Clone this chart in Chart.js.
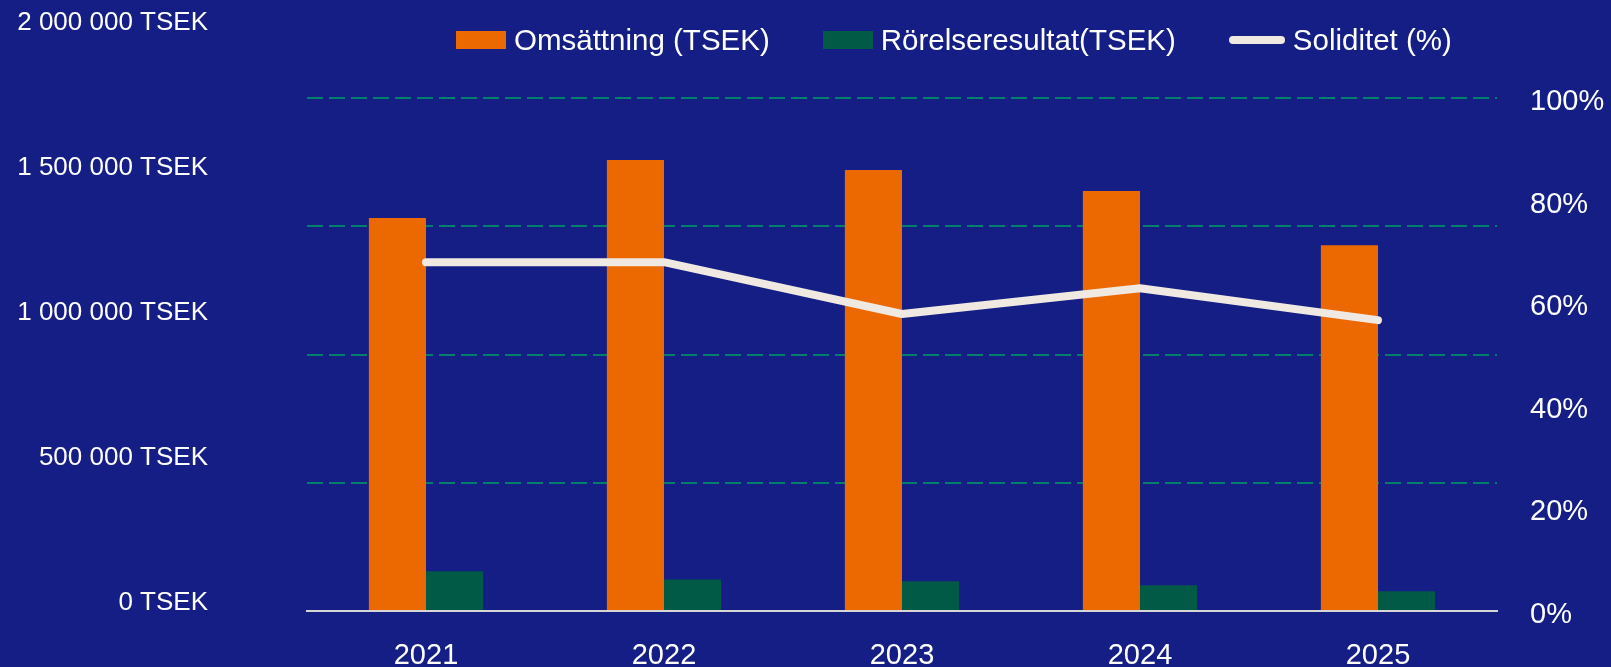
<!DOCTYPE html>
<html>
<head>
<meta charset="utf-8">
<script src="https://cdn.jsdelivr.net/npm/chart.js@4"></script>
<style>
  body { margin: 0; background: #141E84; }
  #wrap { position: relative; width: 1611px; height: 667px; background: #141E84; }
  #legend {
    position: absolute; left: 456px; top: 23px;
    display: flex; align-items: center; gap: 53px;
    font-family: "Liberation Sans", Arial, sans-serif; font-size: 29.5px; color: #fff;
  }
  #legend .item { display: flex; align-items: center; gap: 8px; white-space: nowrap; }
  #legend .box { width: 50px; height: 18px; }
  #legend .line { width: 56px; height: 8px; border-radius: 4px; }
</style>
</head>
<body>
<div id="wrap">
  <canvas id="chart" width="1611" height="667"></canvas>
  <div id="legend"></div>
</div>
<script>
// data
const years = ["2021", "2022", "2023", "2024", "2025"];
const omsattning = [1532000, 1758000, 1719000, 1637000, 1426000];
const rorelseresultat = [155000, 123000, 116000, 100000, 77000];
const soliditet = [68, 68, 57.9, 62.9, 56.7];
const tsekTicks = [0, 500000, 1000000, 1500000, 2000000];
const pctTicks = [0, 20, 40, 60, 80, 100];

const fontFamily = "'Liberation Sans', Arial, sans-serif";
const gridColor = "#00806A";

function fmtTsek(v) {
  return String(v).replace(/\B(?=(\d{3})+(?!\d))/g, " ") + " TSEK";
}

// keep the layout from reserving room for half-labels at the ends of the axes
function noPad(s) {
  s.paddingTop = 0;
  s.paddingBottom = 0;
  s.paddingLeft = 0;
  s.paddingRight = 0;
}

const chart = new Chart(document.getElementById("chart"), {
  type: "bar",
  data: {
    labels: years,
    datasets: [
      {
        type: "line",
        label: "Soliditet (%)",
        data: soliditet,
        yAxisID: "y1",
        borderColor: "#EFE9E1",
        backgroundColor: "#EFE9E1",
        borderWidth: 8,
        borderCapStyle: "round",
        borderJoinStyle: "round",
        pointRadius: 0,
        tension: 0,
        order: 0,
      },
      {
        label: "Omsättning (TSEK)",
        data: omsattning,
        yAxisID: "y",
        backgroundColor: "#EB6900",
        categoryPercentage: 0.48,
        barPercentage: 1,
        order: 1,
      },
      {
        label: "Rörelseresultat(TSEK)",
        data: rorelseresultat,
        yAxisID: "y",
        backgroundColor: "#005A46",
        categoryPercentage: 0.48,
        barPercentage: 1,
        order: 1,
      },
    ],
  },
  options: {
    responsive: false,
    animation: false,
    layout: { padding: { top: 98 } },
    plugins: {
      legend: { display: false },
      tooltip: { enabled: false },
    },
    scales: {
      x: {
        grid: { display: false, drawTicks: false },
        border: { display: true, color: "#D6D6D6", width: 2 },
        ticks: { color: "#fff", font: { family: fontFamily, size: 29 }, padding: 28 },
        afterFit: (s) => { s.height = 56; noPad(s); },
      },
      // label column on the left (sits a bit off the gridlines, as in the original)
      yl: {
        position: "left",
        min: -27600,
        max: 1741000,
        grid: { display: false, drawTicks: false },
        border: { display: false },
        ticks: {
          autoSkip: false,
          color: "#fff",
          font: { family: fontFamily, size: 26 },
          padding: 99,
          callback: (v) => fmtTsek(v),
        },
        afterBuildTicks: (s) => { s.ticks = tsekTicks.map((v) => ({ value: v })); },
        afterFit: (s) => { s.width = 307; noPad(s); },
      },
      y: {
        position: "left",
        min: 0,
        max: 2000000,
        ticks: { display: false, stepSize: 500000 },
        grid: {
          drawTicks: false,
          lineWidth: 2,
          color: (ctx) => (ctx.tick && ctx.tick.value === 0 ? "transparent" : gridColor),
        },
        border: { display: false, dash: [16, 6] },
        afterFit: (s) => { s.width = 0; noPad(s); },
      },
      y1: {
        position: "right",
        min: 0,
        max: 100,
        grid: { display: false, drawTicks: false },
        border: { display: false },
        ticks: {
          autoSkip: false,
          color: "#fff",
          font: { family: fontFamily, size: 29 },
          padding: 33,
          labelOffset: 4,
          callback: (v) => v + "%",
        },
        afterBuildTicks: (s) => { s.ticks = pctTicks.map((v) => ({ value: v })); },
        afterFit: (s) => { s.width = 114; noPad(s); },
      },
    },
  },
});

// html legend built from the datasets (bars first, then the line)
const legendEl = document.getElementById("legend");
[1, 2, 0].forEach((i) => {
  const ds = chart.data.datasets[i];
  const item = document.createElement("div");
  item.className = "item";
  const sw = document.createElement("span");
  sw.className = ds.type === "line" ? "line" : "box";
  sw.style.background = ds.type === "line" ? ds.borderColor : ds.backgroundColor;
  const txt = document.createElement("span");
  txt.textContent = ds.label;
  item.appendChild(sw);
  item.appendChild(txt);
  legendEl.appendChild(item);
});
</script>
</body>
</html>
